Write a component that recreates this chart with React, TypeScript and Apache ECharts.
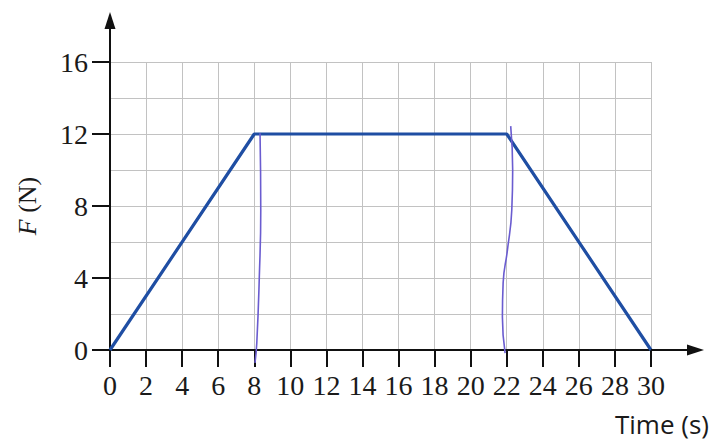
import React, { useEffect, useRef } from "react";
import * as echarts from "echarts";

const forceLine: number[][] = [[0, 0], [8, 12], [22, 12], [30, 0]];
const penMark8: number[][] = [[8.04, -0.72], [8.14, 0.39], [8.28, 4.07], [8.36, 7.78], [8.32, 12.04]];
const penMark22: number[][] = [[21.91, -0.17], [21.76, 1.83], [21.8, 3.72], [22.04, 5.56], [22.28, 7.78], [22.33, 10.0], [22.22, 12.44]];
const xMin = 0, xMax = 30, xStep = 2;
const yMin = 0, yMax = 16, yGridStep = 2, yLabelStep = 4;

const serif = "'Liberation Serif', 'DejaVu Serif', serif";

export default function App() {
  const ref = useRef<HTMLDivElement>(null);
  useEffect(() => {
    if (!ref.current) return;
    const chart = echarts.init(ref.current, null, { renderer: "svg" });
    const axisColor = "#111";
    chart.setOption({
      animation: false,
      backgroundColor: "#fff",
      grid: { left: 110, right: 64, top: 62, bottom: 93 },
      xAxis: {
        type: "value",
        min: xMin,
        max: xMax,
        interval: xStep,
        axisLine: { show: true, lineStyle: { color: axisColor, width: 2 } },
        axisTick: { show: true, length: 17, lineStyle: { color: axisColor, width: 2 } },
        axisLabel: { fontFamily: serif, fontSize: 28, color: "#1a1a1a", margin: 21, showMinLabel: true, showMaxLabel: true },
        splitLine: { show: true, lineStyle: { color: "#c2c2c2", width: 1 } },
      },
      yAxis: [
        {
          type: "value",
          min: yMin,
          max: yMax,
          interval: yGridStep,
          axisLine: { show: true, lineStyle: { color: axisColor, width: 2 } },
          axisTick: { show: false },
          axisLabel: { show: false },
          splitLine: { show: true, lineStyle: { color: "#c2c2c2", width: 1 } },
        },
        {
          type: "value",
          position: "left",
          min: yMin,
          max: yMax,
          interval: yLabelStep,
          axisLine: { show: false },
          axisTick: { show: true, length: 18, lineStyle: { color: axisColor, width: 2 } },
          axisLabel: { fontFamily: serif, fontSize: 28, color: "#1a1a1a", margin: 22 },
          splitLine: { show: false },
          name: "{i|F} (N)",
          nameLocation: "middle",
          nameGap: 70,
          nameRotate: 90,
          nameTextStyle: {
            fontFamily: serif,
            fontSize: 26,
            color: "#1a1a1a",
            rich: { i: { fontFamily: serif, fontSize: 26, fontStyle: "italic", color: "#1a1a1a" } },
          },
        },
      ],
      series: [
        {
          type: "line",
          data: forceLine,
          symbol: "none",
          lineStyle: { color: "#1f4ea3", width: 3.2 },
          z: 3,
        },
        {
          type: "line",
          data: penMark8,
          symbol: "none",
          smooth: true,
          clip: false,
          lineStyle: { color: "#6a5cd0", width: 1.6 },
          z: 4,
        },
        {
          type: "line",
          data: penMark22,
          symbol: "none",
          smooth: true,
          clip: false,
          lineStyle: { color: "#6a5cd0", width: 1.6 },
          z: 4,
        },
      ],
    });
    const origin = chart.convertToPixel({ gridIndex: 0 }, [xMin, yMin]) as number[];
    const xEnd = chart.convertToPixel({ gridIndex: 0 }, [xMax, yMin]) as number[];
    const yEnd = chart.convertToPixel({ gridIndex: 0 }, [xMin, yMax]) as number[];
    const ox = origin[0], oy = origin[1];
    const xTip = xEnd[0] + 53;
    const yTip = yEnd[1] - 50;
    chart.setOption({
      graphic: [
        { type: "line", shape: { x1: xEnd[0], y1: oy, x2: xTip - 8, y2: oy }, style: { stroke: axisColor, lineWidth: 2 }, z: 10 },
        { type: "polygon", shape: { points: [[xTip, oy], [xTip - 17, oy - 5.5], [xTip - 17, oy + 5.5]] }, style: { fill: axisColor }, z: 10 },
        { type: "line", shape: { x1: ox, y1: yEnd[1], x2: ox, y2: yTip + 8 }, style: { stroke: axisColor, lineWidth: 2 }, z: 10 },
        { type: "polygon", shape: { points: [[ox, yTip], [ox - 5.5, yTip + 17], [ox + 5.5, yTip + 17]] }, style: { fill: axisColor }, z: 10 },
        {
          type: "text",
          x: 709,
          y: 424,
          style: { text: "Time (s)", font: "26px 'Open Sans', sans-serif", fill: "#1a1a1a", textAlign: "right", textVerticalAlign: "middle" },
          z: 10,
        },
      ],
    });
    return () => chart.dispose();
  }, []);
  return <div ref={ref} style={{ width: 715, height: 443, position: "absolute", left: 0, top: 0 }} />;
}
